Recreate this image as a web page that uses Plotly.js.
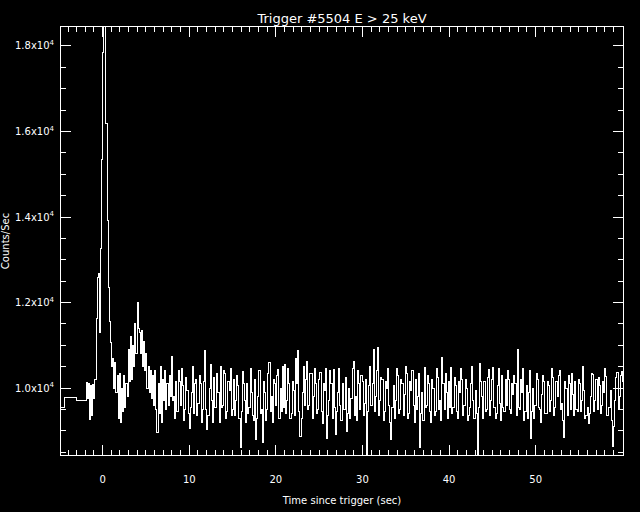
<!DOCTYPE html>
<html><head><meta charset="utf-8">
<script src="https://cdn.plot.ly/plotly-3.0.1.min.js"></script>
<style>
html,body{margin:0;padding:0;background:#000;}
#chart{width:640px;height:512px;}
#chart .scatterlayer path.js-line{shape-rendering:crispEdges !important;}
</style>
</head><body><div id="chart"></div>
<script>
// Pre-trigger coarse bins (bin start times, sec) and counts/sec
const preTimes = [-4.81, -4.42, -3.06];
const preCounts = [9540, 9790, 9700];

// Burst segment, 0.128 s bins from -2.048 s
const fineStart = -2.048, fineStep = 0.128;
const fineCounts = [
  9700, 10130, 9750, 10100, 9260, 10050, 9350, 10080, 9750, 10210,
  11620, 12580, 12670, 11290, 13260, 15340, 17850, 19800, 19300, 16180,
  13920, 12350, 11560, 11060, 10500, 10700, 10000, 10600, 9900, 10300,
  9300, 10350, 9200, 10000, 9450, 10300, 9550, 10100, 9800, 10900,
  10150, 11200, 10200, 11000, 10500, 11500, 10800, 11990, 11400, 11300,
  10800, 11350, 10500, 11100, 10400, 10800, 10000, 10500, 9900, 10400,
  9750, 10300, 9600, 10400, 9500, 8960, 10100, 9400, 10500, 9200,
  10200, 9700, 10400, 9500, 10100, 9600, 10300, 9800, 10740, 9700
];

// Remaining segment, 0.128 s bins from 8.192 s
const tailStart = 8.192, tailStep = 0.128;
const tailCounts = [
  9800,9300, 10150,9450, 10400,10150, 9600,10450, 10050,9250, 9500,10250, 9950,9400, 9050,9550, 9900,10500, 9400,10100,
  10200,9350, 9650,10300, 10100,9200, 9500,10150, 10880,9500, 9030,9350, 10000,10550, 9700,9200, 10250,9550, 9550,10350,
  9900,9200, 10500,9550, 9600,10400, 10350,9300, 9450,10150, 9950,10450, 9350,9500, 10200,9350, 9700,10300, 10050,9300,
  8620,9450, 10390,10100, 9700,9200, 10100,9400, 9550,10450, 9900,9350, 9250,10200, 8790,9300, 9800,10400, 9400,9500,
  8720,10150, 9900,9250, 9500,10350, 10600,9450, 9800,9200, 10200,10100, 9600,10300, 10430,9300, 10000,9450, 10500,9550,
  10550,9400, 9700,10450, 10100,9300, 9400,10150, 9950,9350, 10700,10100, 10880,9450, 8870,9300, 9900,10500, 9600,10200,
  10620,9500, 9600,10350, 10350,9300, 9800,10450, 10100,9400, 9500,10200, 10360,9450, 9180,10100, 9950,10450, 8830,9350,
  9700,10400, 10100,9300, 10430,9550, 8910,9450, 9900,10450, 9600,9250, 10100,9500, 9500,10250, 8990,9400, 10000,9300,
  9750,10450, 10620,9350, 9800,9250, 10400,10100, 9500,10300, 10150,9350, 9650,10200, 8300,9450, 10050,10500, 9600,10100,
  10900,9450, 9800,10400, 10960,9350, 9700,10250, 10200,9250, 9450,10150, 10000,10450, 9600,9200, 8790,9550, 10050,9300,
  9700,10450, 10300,9400, 9500,10200, 10100,9350, 9850,10500, 10350,9300, 9400,10150, 9950,10400, 9600,9200, 10200,9500,
  9800,10350, 8600,9400, 9900,9250, 10470,9550, 9600,10300, 10100,9450, 9200,10200, 10000,9350, 9450,10450, 10250,9500,
  9700,9250, 10720,10100, 9500,10350, 9900,9300, 10150,9550, 10470,9400, 9550,10250, 10050,9450, 9300,10150, 9900,10450,
  10200,9350, 9600,10200, 10000,9250, 9350,9550, 10100,10500, 9700,9300, 9950,9400, 8300,9550, 10580,10150, 9800,9300,
  10150,9450, 9500,10250, 10430,9350, 9700,10200, 10470,9550, 9300,9400, 10050,10450, 9650,9250, 10300,9550, 9450,10200,
  9600,10400, 10200,9500, 9400,10100, 9850,10300, 10100,9350, 10900,9550, 9500,10200, 9900,10450, 9250,9450, 10050,9300,
  9900,10400, 8830,9450, 10000,9300, 9600,10350, 10200,9550, 9500,9200, 9850,10300, 10150,9400, 9400,10150, 10050,9450,
  9700,10450, 10250,9350, 9550,10150, 9800,10300, 10400,9500, 9650,9250, 8850,10150, 10000,9350, 10300,10100, 9500,10350,
  9850,9350, 10150,9500, 9450,10200, 10100,9450, 9700,10500, 9950,9300, 9350,9550, 9180,9400, 9800,10350, 10310,9450,
  9700,10200, 9490,10250, 10050,9400, 9600,10150, 9900,10450, 10270,9350, 9550,9550, 9950,9250, 8640,9100, 9700,10250,
  10370,9500, 9800,10300, 10390,10150
];

const xTickVals = [0, 10, 20, 30, 40, 50];
const yTickVals = [10000, 12000, 14000, 16000, 18000];
const yTickText = ['1.0x10<sup>4</sup>', '1.2x10<sup>4</sup>', '1.4x10<sup>4</sup>', '1.6x10<sup>4</sup>', '1.8x10<sup>4</sup>'];

const xs = [], ys = [];
preTimes.forEach((t, i) => { xs.push(t); ys.push(preCounts[i]); });
fineCounts.forEach((v, i) => { xs.push(fineStart + i * fineStep); ys.push(v); });
tailCounts.forEach((v, i) => { xs.push(tailStart + i * tailStep); ys.push(v); });
xs.push(tailStart + tailCounts.length * tailStep);
ys.push(tailCounts[tailCounts.length - 1]);

const font = {family: 'DejaVu Sans, sans-serif', color: '#ffffff', size: 10};

const trace = {
  x: xs, y: ys, type: 'scatter', mode: 'lines',
  line: {color: '#ffffff', width: 1, shape: 'hv'},
  hoverinfo: 'skip'
};

const layout = {
  width: 640, height: 512,
  paper_bgcolor: '#000000', plot_bgcolor: '#000000',
  margin: {l: 61, r: 17, t: 27, b: 57},
  showlegend: false,
  font: font,
  title: {text: 'Trigger #5504 E > 25 keV', font: {family: 'DejaVu Sans, sans-serif', size: 13, color: '#ffffff'},
          xref: 'paper', x: 0.5, xanchor: 'center', yref: 'container', y: 1 - 18.5 / 512, yanchor: 'middle'},
  xaxis: {
    range: [-4.81, 60.09], showgrid: false, zeroline: false,
    showline: true, linecolor: '#ffffff', linewidth: 1, mirror: 'allticks',
    ticks: 'inside', ticklen: 10, tickwidth: 1, tickcolor: '#ffffff',
    tickvals: xTickVals, ticktext: xTickVals.map(String),
    tickfont: font, ticklabelstandoff: 15,
    minor: {dtick: 1, tick0: 0, ticks: 'inside', ticklen: 5, tickcolor: '#ffffff', tickwidth: 1, showgrid: false},
    title: {text: 'Time since trigger (sec)', font: font, standoff: 12}
  },
  yaxis: {
    range: [8435, 18444], showgrid: false, zeroline: false,
    showline: true, linecolor: '#ffffff', linewidth: 1, mirror: 'allticks',
    ticks: 'inside', ticklen: 10, tickwidth: 1, tickcolor: '#ffffff',
    tickvals: yTickVals, ticktext: yTickText,
    tickfont: font, ticklabelstandoff: 4,
    minor: {dtick: 500, tick0: 0, ticks: 'inside', ticklen: 5, tickcolor: '#ffffff', tickwidth: 1, showgrid: false},
    title: {text: 'Counts/Sec', font: font, standoff: 7}
  }
};

Plotly.newPlot('chart', [trace], layout, {displayModeBar: false, staticPlot: true});
</script>
</body></html>
